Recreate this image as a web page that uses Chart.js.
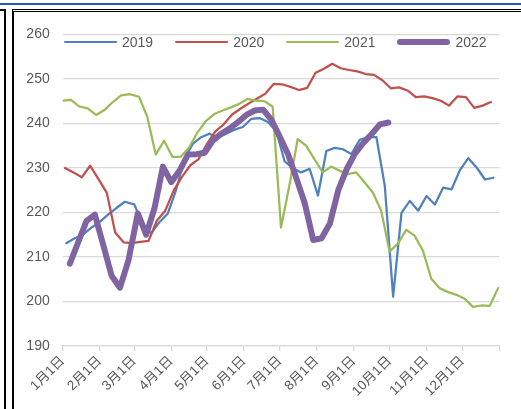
<!DOCTYPE html>
<html>
<head>
<meta charset="utf-8">
<script src="https://cdn.jsdelivr.net/npm/chart.js@4.4.1/dist/chart.umd.min.js"></script>
<style>
  html, body { margin: 0; padding: 0; background: #fff; }
  body { width: 521px; height: 409px; overflow: hidden; position: relative;
         font-family: "Liberation Sans", "Noto Sans CJK SC", sans-serif; }
  .topline { position: absolute; left: 0; top: 3px; width: 521px; height: 2px; background: #1f5ca8; }
  .leftbox { position: absolute; left: -20px; top: 9px; width: 22px; height: 420px; border: 2px solid #000; }
  .frame { position: absolute; left: 12px; top: 9px; width: 530px; height: 420px;
           border-top: 3px double #000; border-left: 2px solid #000; }
  #wrap { position: absolute; left: 15px; top: 13px; width: 506px; height: 396px; }
  #legend { position: absolute; left: 64px; top: 34px; height: 16px; display: flex; align-items: center;
            font-size: 14px; color: #595959; }
  #legend .item { display: flex; align-items: center; margin-right: 22px; }
  #legend .swatch { display: inline-block; width: 53px; margin-right: 5px; }
</style>
</head>
<body>
<div class="topline"></div>
<div class="leftbox"></div>
<div class="frame"></div>
<div id="wrap"><canvas id="myChart"></canvas></div>
<div id="legend"></div>
<script>
// weekly (Friday) prices, one array per year
const seriesNames = ["2019", "2020", "2021", "2022"];
const firstDates = ["2019-01-04", "2020-01-03", "2021-01-01", "2022-01-07"];

const values2019 = [213.1, 214.2, 215.0, 216.6, 217.9, 219.5, 221.0, 222.4, 221.8, 217.5,
  215.3, 217.8, 219.7, 225.0, 232.0, 235.4, 236.9, 237.7, 236.8, 237.7,
  238.6, 239.2, 241.0, 241.2, 240.3, 238.3, 231.5, 229.9, 229.0, 229.8,
  223.8, 233.8, 234.5, 234.2, 233.1, 236.3, 236.9, 236.9, 226.0, 201.1,
  219.9, 222.6, 220.4, 223.7, 221.8, 225.6, 225.2, 229.5, 232.2, 230.1,
  227.4, 227.8];
const values2020 = [230.0, 229.0, 227.9, 230.5, 227.5, 224.4, 215.5, 213.3, 213.1, 213.4,
  213.6, 218.2, 220.4, 224.9, 228.0, 230.6, 232.0, 235.4, 238.2, 239.8,
  242.0, 243.3, 244.5, 245.6, 246.7, 248.9, 248.8, 248.2, 247.5, 248.0,
  251.4, 252.3, 253.4, 252.4, 252.0, 251.7, 251.1, 250.9, 249.7, 247.9,
  248.1, 247.4, 245.9, 246.1, 245.7, 245.1, 244.0, 246.1, 245.9, 243.5,
  244.0, 244.8];
const values2021 = [245.1, 245.3, 243.8, 243.4, 241.9, 243.0, 244.8, 246.3, 246.6, 246.0,
  241.4, 233.0, 236.1, 232.5, 232.5, 234.6, 238.0, 240.5, 242.1, 242.9,
  243.6, 244.4, 245.5, 245.1, 245.0, 243.8, 216.6, 226.0, 236.5, 235.0,
  232.0, 229.0, 230.3, 229.4, 228.6, 229.0, 226.8, 224.5, 220.4, 211.2,
  213.0, 216.1, 214.8, 211.4, 205.1, 203.0, 202.1, 201.5, 200.6, 198.8,
  199.1, 199.0, 203.0];
const values2022 = [208.5, 213.3, 218.1, 219.5, 212.7, 205.8, 203.1, 209.1, 219.8, 215.0,
  221.0, 230.3, 226.8, 229.4, 233.0, 233.1, 233.4, 236.2, 237.7, 238.9,
  240.3, 241.9, 242.9, 243.1, 240.8, 237.0, 233.0, 227.6, 222.0, 213.8,
  214.2, 217.5, 225.0, 229.7, 233.2, 235.6, 237.6, 239.8, 240.2];

const tickLabels = ["1月1日", "2月1日", "3月1日", "4月1日", "5月1日", "6月1日",
  "7月1日", "8月1日", "9月1日", "10月1日", "11月1日", "12月1日", ""];

const seriesValues = [values2019, values2020, values2021, values2022];
const lineColors = ["#4f81bd", "#c0504d", "#9bbb59", "#8064a2"];
const lineWidths = [2.25, 2.25, 2.25, 6];

const DAY = 86400000;
const YEAR0 = Date.UTC(2020, 0, 1);

// place every date on one shared calendar year (month/day only)
function dayOfYear(month, day) {
  return (Date.UTC(2020, month, day) - YEAR0) / DAY;
}

function weeklyPoints(start, values) {
  const t0 = Date.parse(start + "T00:00:00Z");
  return values.map(function (v, i) {
    const d = new Date(t0 + i * 7 * DAY);
    return { x: dayOfYear(d.getUTCMonth(), d.getUTCDate()), y: v };
  });
}

const monthStarts = tickLabels.map(function (_, m) { return dayOfYear(m, 1); });

const datasets = seriesNames.map(function (name, i) {
  return {
    label: name,
    data: weeklyPoints(firstDates[i], seriesValues[i]),
    borderColor: lineColors[i],
    backgroundColor: lineColors[i],
    borderWidth: lineWidths[i],
    borderJoinStyle: "round",
    borderCapStyle: "round",
    pointRadius: 0,
    tension: 0,
    order: seriesNames.length - i
  };
});

const font = '"Liberation Sans", "Noto Sans CJK SC", sans-serif';

new Chart(document.getElementById("myChart"), {
  type: "line",
  data: { datasets: datasets },
  options: {
    responsive: true,
    maintainAspectRatio: false,
    animation: false,
    layout: { padding: { top: 21, right: 21.7, bottom: 0, left: 0 } },
    plugins: { legend: { display: false }, tooltip: { enabled: false } },
    scales: {
      x: {
        type: "linear",
        min: 0,
        max: 366,
        afterBuildTicks: function (axis) {
          axis.ticks = monthStarts.map(function (v) { return { value: v }; });
        },
        afterFit: function (scale) { scale.height = 63; },
        ticks: {
          autoSkip: false,
          minRotation: 45,
          maxRotation: 45,
          padding: 2,
          color: "#595959",
          font: { size: 13.5, family: font },
          callback: function (value, index) { return tickLabels[index]; }
        },
        grid: { drawOnChartArea: false, drawTicks: true, tickLength: 5, color: "#d9d9d9", lineWidth: 1.3 },
        border: { color: "#d9d9d9", width: 1.3 }
      },
      y: {
        min: 190,
        max: 260,
        afterFit: function (scale) { scale.width = 47.7; },
        ticks: {
          stepSize: 10,
          padding: 13,
          color: "#595959",
          font: { size: 14, family: font }
        },
        grid: { color: "#d9d9d9", lineWidth: 1.3, drawTicks: false },
        border: { display: false }
      }
    }
  }
});

// legend row built from the same series
const legend = document.getElementById("legend");
seriesNames.forEach(function (name, i) {
  const item = document.createElement("span");
  item.className = "item";
  const sw = document.createElement("span");
  sw.className = "swatch";
  sw.style.height = lineWidths[i] + "px";
  sw.style.background = lineColors[i];
  sw.style.borderRadius = (lineWidths[i] / 2) + "px";
  const txt = document.createElement("span");
  txt.textContent = name;
  item.appendChild(sw);
  item.appendChild(txt);
  legend.appendChild(item);
});
</script>
</body>
</html>
